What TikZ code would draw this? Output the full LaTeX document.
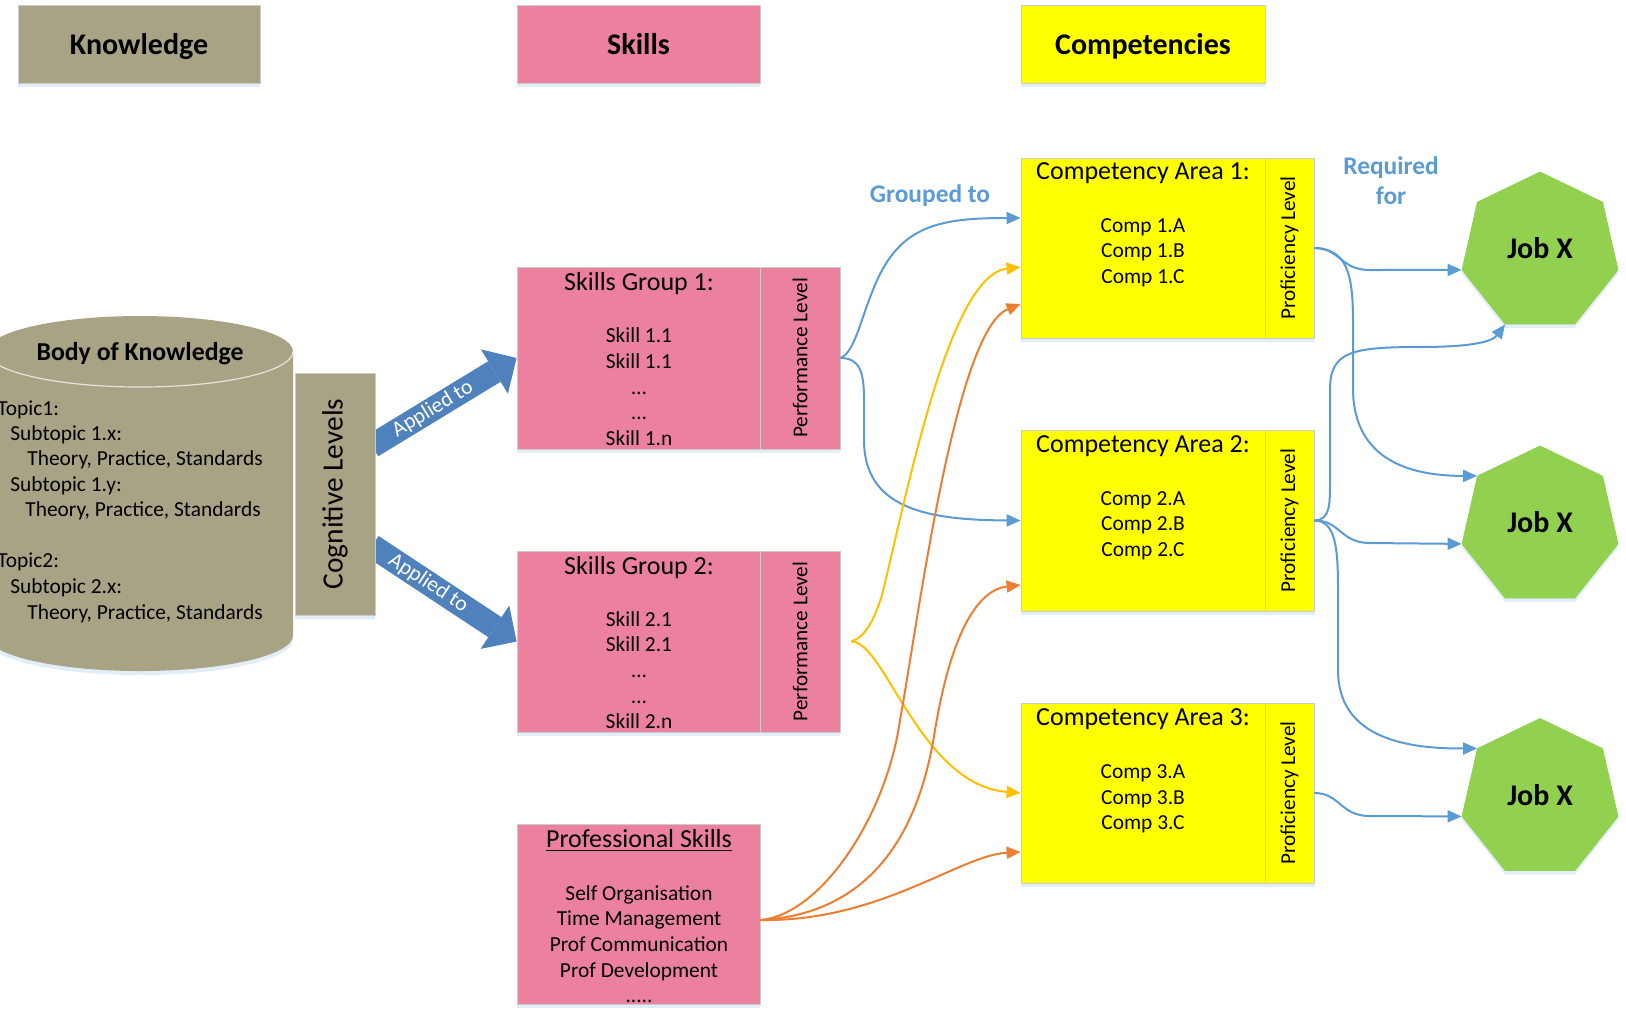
\documentclass[tikz,border=0pt]{standalone}
\usepackage{fontspec}
\setmainfont{Carlito}
\usetikzlibrary{arrows.meta,shapes.geometric,shadows,fit}

\definecolor{khaki}{RGB}{168,163,133}
\definecolor{skillpink}{RGB}{235,129,158}
\definecolor{compyellow}{RGB}{255,255,0}
\definecolor{jobgreen}{RGB}{146,208,80}
\definecolor{bigblue}{RGB}{79,129,189}
\definecolor{linkblue}{RGB}{91,155,213}
\definecolor{linkgold}{RGB}{255,192,0}
\definecolor{linkorange}{RGB}{237,125,49}

\tikzset{
  softshadow/.style={drop shadow={shadow xshift=0pt, shadow yshift=-2pt, fill=linkblue!40, opacity=.45}},
  box/.style={draw=black!20, line width=0.4pt, inner sep=0pt, softshadow},
  knowbox/.style={box, fill=khaki},
  skillbox/.style={box, fill=skillpink},
  compbox/.style={box, fill=compyellow},
  job/.style={regular polygon, regular polygon sides=7, minimum size=80pt, inner sep=0pt,
    fill=jobgreen, draw=jobgreen, softshadow},
  head/.style={inner sep=0pt, text depth=0pt, font=\bfseries\fontsize{15}{18}\selectfont},
  txt/.style={inner sep=0pt, anchor=base, font=\fontsize{10.7}{12.8}\selectfont},
  title/.style={inner sep=0pt, anchor=base, font=\fontsize{13}{15.6}\selectfont},
  lvl/.style={inner sep=0pt, rotate=90, font=\fontsize{10.6}{12.7}\selectfont},
  linklabel/.style={inner sep=0pt, text=linkblue, font=\bfseries\fontsize{12.7}{15}\selectfont},
  link/.style={line width=1pt, -{Triangle[length=7pt,width=6pt]}},
  bluelink/.style={link, draw=linkblue},
  goldlink/.style={link, draw=linkgold},
  orangelink/.style={link, draw=linkorange},
  bigarrow/.style={draw=bigblue, line width=12pt, -{Triangle[length=13pt,width=26pt,line width=0pt]}},
}

\begin{document}
\begin{tikzpicture}[x=0.5pt,y=-0.5pt]
        \useasboundingbox (0,0) rectangle (1626,1009);
        \clip (0,0) rectangle (1626,1009);

        % the column headers
        \node[knowbox, fit={(18,5) (260,83)}] (know) {};
        \node[skillbox, fit={(517,5) (760,83)}] (skills) {};
        \node[compbox, fit={(1021,5) (1265,83)}] (comps) {};
        \node[head] (knowtext) at (know.center) {Knowledge};
        \node[head] (skillstext) at (skills.center) {Skills};
        \node[head] (compstext) at (comps.center) {Competencies};

        % the body of knowledge (a cylinder)
        \fill[khaki, softshadow] (-13,351.5) -- (-13,635.5)
            arc[start angle=180, end angle=0, x radius=153, y radius=35.5] -- (293,351.5)
            arc[start angle=0, end angle=-180, x radius=153, y radius=35.5] -- cycle;
        \draw[white!70!khaki, line width=0.6pt] (-13,351.5)
            arc[start angle=180, end angle=0, x radius=153, y radius=35.5];
        \node[inner sep=0pt, anchor=base, font=\bfseries\fontsize{12.9}{15.5}\selectfont] (bok) at (140,360) {Body of Knowledge};
        \node[txt, anchor=base west] (t1) at (-3,415) {Topic1:};
        \node[txt, anchor=base west] (t2) at (10,440) {Subtopic 1.x:};
        \node[txt, anchor=base west] (t3) at (27,465.5) {Theory, Practice, Standards};
        \node[txt, anchor=base west] (t4) at (10,491) {Subtopic 1.y:};
        \node[txt, anchor=base west] (t5) at (25,516.5) {Theory, Practice, Standards};
        \node[txt, anchor=base west] (t6) at (-3,567.5) {Topic2:};
        \node[txt, anchor=base west] (t7) at (10,593) {Subtopic 2.x:};
        \node[txt, anchor=base west] (t8) at (27,619) {Theory, Practice, Standards};

        % the skill groups
        \node[skillbox, fit={(517,267) (760,449)}] (sg1) {};
        \node[skillbox, fit={(760,267) (840,449)}] (sg1lvl) {};
        \node[skillbox, fit={(517,551) (760,732)}] (sg2) {};
        \node[skillbox, fit={(760,551) (840,732)}] (sg2lvl) {};
        \node[skillbox, fit={(517,824) (760,1004)}] (ps) {};

        \node[title] (sg1title) at (639,290) {Skills Group 1:};
        \node[txt] (s11) at (639,342.5) {Skill 1.1};
        \node[txt] (s12) at (639,368) {Skill 1.1};
        \node[txt] (s13) at (639,394) {…};
        \node[txt] (s14) at (639,419.5) {…};
        \node[txt] (s1n) at (639,445) {Skill 1.n};
        \node[lvl] (sg1lvltext) at (sg1lvl.center) {Performance Level};

        \node[title] (sg2title) at (639,574.5) {Skills Group 2:};
        \node[txt] (s21) at (639,626) {Skill 2.1};
        \node[txt] (s22) at (639,651.7) {Skill 2.1};
        \node[txt] (s23) at (639,677.4) {…};
        \node[txt] (s24) at (639,703) {…};
        \node[txt] (s2n) at (639,728.8) {Skill 2.n};
        \node[lvl] (sg2lvltext) at (sg2lvl.center) {Performance Level};

        \node[title] (pstitle) at (639,847.5) {\underline{Professional Skills}};
        \node[txt] (p1) at (639,900) {Self Organisation};
        \node[txt] (p2) at (639,925.7) {Time Management};
        \node[txt] (p3) at (639,951.4) {Prof Communication};
        \node[txt] (p4) at (639,977.1) {Prof Development};
        \node[txt] (p5) at (639,1002.8) {.....};

        % the competency areas
        \node[compbox, fit={(1021,158) (1265,338)}] (ca1) {};
        \node[compbox, fit={(1265,158) (1314,338)}] (ca1lvl) {};
        \node[compbox, fit={(1021,430) (1265,611)}] (ca2) {};
        \node[compbox, fit={(1265,430) (1314,611)}] (ca2lvl) {};
        \node[compbox, fit={(1021,703) (1265,883)}] (ca3) {};
        \node[compbox, fit={(1265,703) (1314,883)}] (ca3lvl) {};

        \node[title] (ca1title) at (1143,179.5) {Competency Area 1:};
        \node[txt] (c1a) at (1143,232) {Comp 1.A};
        \node[txt] (c1b) at (1143,257.7) {Comp 1.B};
        \node[txt] (c1c) at (1143,283.4) {Comp 1.C};
        \node[lvl] (ca1lvltext) at (ca1lvl.center) {Proficiency Level};

        \node[title] (ca2title) at (1143,452.5) {Competency Area 2:};
        \node[txt] (c2a) at (1143,505) {Comp 2.A};
        \node[txt] (c2b) at (1143,530.7) {Comp 2.B};
        \node[txt] (c2c) at (1143,556.4) {Comp 2.C};
        \node[lvl] (ca2lvltext) at (ca2lvl.center) {Proficiency Level};

        \node[title] (ca3title) at (1143,725.5) {Competency Area 3:};
        \node[txt] (c3a) at (1143,778.5) {Comp 3.A};
        \node[txt] (c3b) at (1143,804.2) {Comp 3.B};
        \node[txt] (c3c) at (1143,829.9) {Comp 3.C};
        \node[lvl] (ca3lvltext) at (ca3lvl.center) {Proficiency Level};

        % the jobs
        \node[job] (job1) at (1540,252) {};
        \node[job] (job2) at (1540,526) {};
        \node[job] (job3) at (1540,798.5) {};
        \node[head] (job1text) at (1540,248) {Job X};
        \node[head] (job2text) at (1540,522) {Job X};
        \node[head] (job3text) at (1540,794.5) {Job X};

        % the big arrows (they start under the cognitive levels box)
        \coordinate (a1) at (372,446);
        \coordinate (a2) at (372,546);
        \draw[bigarrow] (a1) -- (sg1.west)
            node[pos=0.42, sloped, inner sep=0pt, text=white, font=\fontsize{10.8}{13}\selectfont] (app1) {Applied to};
        \draw[bigarrow] (a2) -- (sg2.west)
            node[pos=0.39, sloped, inner sep=0pt, text=white, font=\fontsize{10.8}{13}\selectfont] (app2) {Applied to};

        \node[knowbox, fit={(295,373) (375,615)}] (cl) {};
        \node[inner sep=0pt, rotate=90, font=\fontsize{14.7}{17}\selectfont] (cltext) at (cl.center) {Cognitive Levels};

        % the texts on the links
        \node[linklabel] (grp) at (930,196) {Grouped to};
        \node[linklabel, align=center] (req) at (1391,181) {Required\\for};

        % skills grouped to competencies
        \draw[bluelink] (sg1lvl.east) .. controls (855,352) and (860,320) .. (875,285)
            .. controls (900,225) and (940,218) .. (ca1.west |- 0,218);
        \draw[bluelink] (sg1lvl.east) .. controls (860,358) and (864,372) .. (864,400) -- (864,440)
            .. controls (864,510) and (930,520) .. (ca2.west);
        \draw[goldlink] ([xshift=5.5pt]sg2lvl.east) .. controls (866,636) and (874,620) .. (882,595)
            .. controls (910,480) and (950,275) .. (ca1.west |- 0,267);
        \draw[goldlink] ([xshift=5.5pt]sg2lvl.east) .. controls (885,641) and (920,785) .. (ca3.west);
        \draw[orangelink] (ps.east |- 0,920) .. controls (820,915) and (886,818) .. (900,720)
            .. controls (918,622) and (955,330) .. (ca1.west |- 0,304);
        \draw[orangelink] (ps.east |- 0,920) .. controls (850,915) and (915,860) .. (935,730)
            .. controls (950,640) and (975,590) .. (ca2.west |- 0,585);
        \draw[orangelink] (ps.east |- 0,920) .. controls (880,922) and (960,855) .. (ca3.west |- 0,852);

        % competencies required for jobs
        \draw[bluelink] (ca1lvl.east) .. controls (1340,248) and (1340,270) .. (1370,270) -- (job1.corner 3);
        \draw[bluelink] (ca1lvl.east) .. controls (1345,249) and (1353,270) .. (1353,320) -- (1353,390)
            .. controls (1354,460) and (1410,476) .. (job2.corner 2);
        \draw[bluelink] (ca2lvl.east) .. controls (1330,520) and (1330,505) .. (1330,480) -- (1330,390)
            .. controls (1330,352) and (1350,347) .. (1420,347)
            .. controls (1470,347) and (1492,342) .. (job1.corner 4);
        \draw[bluelink] (ca2lvl.east) .. controls (1340,520) and (1340,543) .. (1370,543) -- (job2.corner 3);
        \draw[bluelink] (ca2lvl.east) .. controls (1335,521) and (1338,545) .. (1338,590) -- (1338,670)
            .. controls (1338,735) and (1400,749) .. (job3.corner 2);
        \draw[bluelink] (ca3lvl.east) .. controls (1340,793) and (1340,816) .. (1370,816) -- (job3.corner 3);

    \end{tikzpicture}
\end{document}
